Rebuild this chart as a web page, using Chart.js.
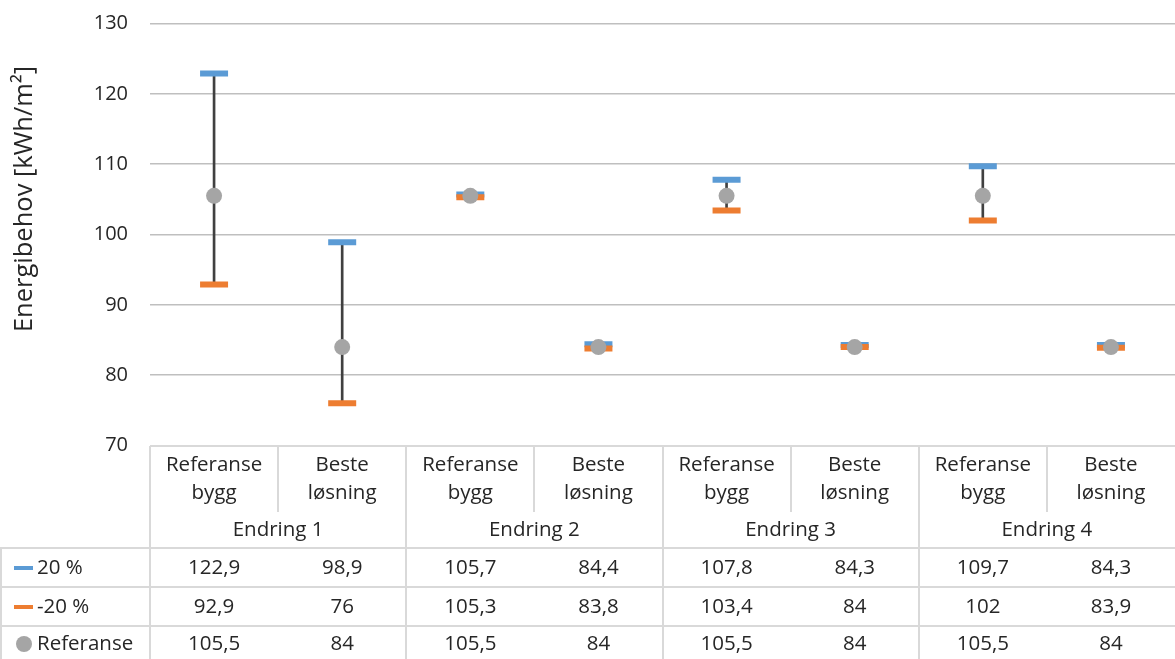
<!DOCTYPE html>
<html>
<head>
<meta charset="utf-8">
<script src="https://cdn.jsdelivr.net/npm/chart.js@4/dist/chart.umd.min.js"></script>
<style>
  html, body { margin: 0; padding: 0; background: #fff; overflow: hidden; }
</style>
</head>
<body>
<canvas id="energyChart" width="1175" height="659"></canvas>
<script>
const subLabels = [
  ["Referanse", "bygg"], ["Beste", "løsning"],
  ["Referanse", "bygg"], ["Beste", "løsning"],
  ["Referanse", "bygg"], ["Beste", "løsning"],
  ["Referanse", "bygg"], ["Beste", "løsning"]
];
const groups = ["Endring 1", "Endring 2", "Endring 3", "Endring 4"];
const plus20 = [122.9, 98.9, 105.7, 84.4, 107.8, 84.3, 109.7, 84.3];
const minus20 = [92.9, 76, 105.3, 83.8, 103.4, 84, 102, 83.9];
const referanse = [105.5, 84, 105.5, 84, 105.5, 84, 105.5, 84];
const seriesNames = ["20 %", "-20 %", "Referanse"];
const yTicks = [70, 80, 90, 100, 110, 120, 130];

const BLUE = "#5b9bd5";
const ORANGE = "#ed7d31";
const GREY = "#a5a5a5";
const TEXT = "#262626";
const FONT = "'Open Sans', sans-serif";

const fmt = v => String(v).replace(".", ",");

// data table + axis title drawn under the plot
const tablePlugin = {
  id: "dataTable",
  afterDraw(chart) {
    const ctx = chart.ctx;
    const x = chart.scales.x;
    const area = chart.chartArea;
    const step = x.getPixelForValue(1) - x.getPixelForValue(0);
    const top = area.bottom + 0.5;
    const rowSub = 512, rowGrp = 548;
    const rows = [548, 587, 626, 659];
    const right = chart.width;

    ctx.save();
    ctx.strokeStyle = "#d9d9d9";
    ctx.lineWidth = 2;
    ctx.beginPath();
    ctx.moveTo(area.left, top); ctx.lineTo(right, top);
    rows.slice(0, 3).forEach(r => { ctx.moveTo(0, r); ctx.lineTo(right, r); });
    ctx.moveTo(1, rowGrp); ctx.lineTo(1, 659);
    for (let i = 0; i < subLabels.length; i++) {
      const cx = Math.round(x.getPixelForValue(i) - step / 2);
      ctx.moveTo(cx, top);
      ctx.lineTo(cx, i % 2 === 0 ? 659 : rowSub);
    }
    ctx.stroke();

    ctx.fillStyle = TEXT;
    ctx.font = "20.5px " + FONT;
    ctx.textAlign = "center";
    ctx.textBaseline = "middle";
    subLabels.forEach((lbl, i) => {
      const cx = x.getPixelForValue(i);
      ctx.fillText(lbl[0], cx, 465);
      ctx.fillText(lbl[1], cx, 493);
      ctx.fillText(fmt(plus20[i]), cx, 568);
      ctx.fillText(fmt(minus20[i]), cx, 607);
      ctx.fillText(fmt(referanse[i]), cx, 644);
    });
    groups.forEach((g, j) => {
      const cx = (x.getPixelForValue(j * 2) + x.getPixelForValue(j * 2 + 1)) / 2;
      ctx.fillText(g, cx, 530);
    });

    // legend keys in the first column
    ctx.textAlign = "left";
    const rowMid = [568, 607, 644];
    ctx.lineWidth = 4;
    [BLUE, ORANGE].forEach((c, k) => {
      ctx.strokeStyle = c;
      ctx.beginPath();
      ctx.moveTo(14, rowMid[k]); ctx.lineTo(33, rowMid[k]);
      ctx.stroke();
    });
    ctx.fillStyle = GREY;
    ctx.beginPath();
    ctx.arc(24, rowMid[2], 8, 0, Math.PI * 2);
    ctx.fill();
    ctx.fillStyle = TEXT;
    seriesNames.forEach((n, k) => ctx.fillText(n, 37, rowMid[k]));

    // y axis title
    ctx.translate(25, 199);
    ctx.rotate(-Math.PI / 2);
    ctx.textAlign = "center";
    ctx.font = "25.5px " + FONT;
    ctx.fillText("Energibehov [kWh/m²]", 0, 0);
    ctx.restore();
  }
};

new Chart(document.getElementById("energyChart"), {
  type: "bar",
  data: {
    labels: subLabels.map(l => l.join(" ")),
    datasets: [
      {
        type: "line",
        label: seriesNames[2],
        data: referanse,
        showLine: false,
        pointStyle: "circle",
        pointRadius: 8,
        pointBackgroundColor: GREY,
        pointBorderWidth: 0,
        order: 1
      },
      {
        type: "line",
        label: seriesNames[1],
        data: minus20,
        showLine: false,
        pointStyle: "line",
        pointRadius: 14,
        pointBorderColor: ORANGE,
        pointBorderWidth: 6,
        order: 2
      },
      {
        type: "line",
        label: seriesNames[0],
        data: plus20,
        showLine: false,
        pointStyle: "line",
        pointRadius: 14,
        pointBorderColor: BLUE,
        pointBorderWidth: 6,
        order: 3
      },
      {
        label: "range",
        data: minus20.map((lo, i) => [lo, plus20[i]]),
        backgroundColor: "#404040",
        barThickness: 2,
        order: 4
      }
    ]
  },
  options: {
    responsive: false,
    animation: false,
    layout: { autoPadding: false, padding: { top: 23.5, bottom: 213.5, left: 0, right: 0 } },
    plugins: { legend: { display: false }, tooltip: { enabled: false } },
    scales: {
      x: { display: false },
      y: {
        min: 70,
        max: 130,
        afterFit: s => { s.width = 150; s.paddingTop = 0; s.paddingBottom = 0; },
        afterBuildTicks: s => { s.ticks = yTicks.map(v => ({ value: v })); },
        border: { display: false },
        grid: {
          drawTicks: false,
          color: c => c.tick.value === 70 ? "rgba(0,0,0,0)" : "#bfbfbf",
          lineWidth: 1.5
        },
        ticks: {
          padding: 22,
          color: TEXT,
          font: { family: "'Open Sans', sans-serif", size: 20 }
        }
      }
    }
  },
  plugins: [tablePlugin]
});
</script>
</body>
</html>
